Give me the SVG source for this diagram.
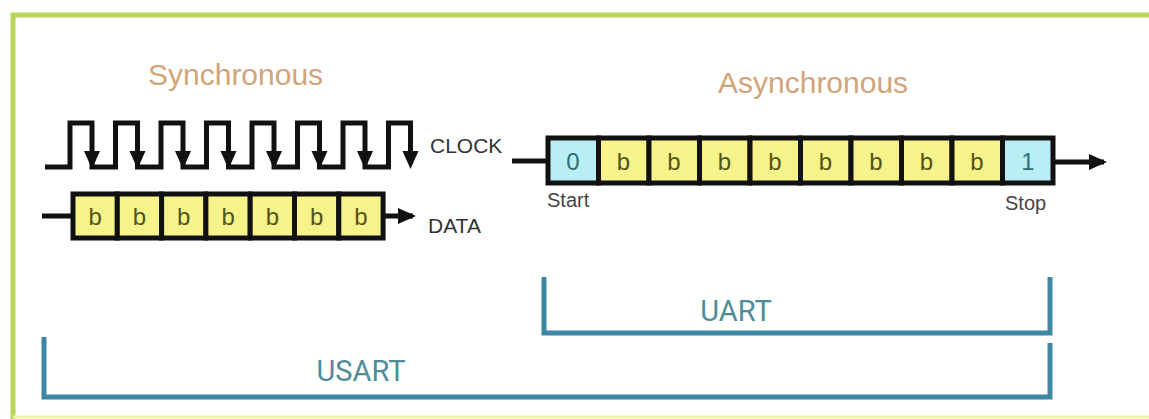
<svg xmlns="http://www.w3.org/2000/svg" xmlns:xlink="http://www.w3.org/1999/xlink" width="1149" height="419" viewBox="0 0 1149 419">
  <defs>
    <style>
      .title { font-family: "Liberation Sans", Arial, sans-serif; font-size: 30px; fill: #d2a478; }
      .sig { font-family: "Liberation Sans", Arial, sans-serif; font-size: 21px; fill: #333; }
      .small { font-family: "Liberation Sans", Arial, sans-serif; font-size: 20px; fill: #444; }
      .bit { font-family: "Liberation Sans", Arial, sans-serif; font-size: 24px; fill: #55531a; text-anchor: middle; }
      .edge { font-family: "Liberation Sans", Arial, sans-serif; font-size: 24px; fill: #2e6e72; text-anchor: middle; }
      .cellY { fill: #f6f38a; stroke: #111; stroke-width: 5; }
      .cellC { fill: #b8eef4; stroke: #111; stroke-width: 5; }
      .wire { fill: none; stroke: #111; stroke-width: 5; }
      .brace { fill: none; stroke: #3d87a3; stroke-width: 5; }
      .brlabel { font-family: Roboto, "Liberation Sans", sans-serif; font-size: 29px; fill: #4f8c99; text-anchor: middle; }
    </style>
    <!-- falling-edge arrowhead, tip at origin -->
    <path id="clkHead" d="M-8,-18 L8,-18 L0,0 Z" fill="#111"/>
    <marker id="arrow" markerWidth="18" markerHeight="16" refX="15" refY="8" orient="auto" markerUnits="userSpaceOnUse">
      <path d="M0,0 L18,8 L0,16 Z" fill="#111"/>
    </marker>
  </defs>

  <rect width="1149" height="419" fill="#ffffff"/>

  <!-- frame -->
  <g id="frame">
    <path d="M13,419 V15 H1149" fill="none" stroke="#b7d65a" stroke-width="5"/>
    <line x1="13" y1="417" x2="1149" y2="417" stroke="#eef7a8" stroke-width="3"/>
  </g>

  <!-- synchronous side -->
  <g id="sync-title">
    <text class="title" x="148" y="85">Synchronous</text>
  </g>

  <g id="clock">
    <path class="wire" d="M45,167 H70 V123 H92 V167 H115.5 V123 H137.5 V167 H161 V123 H183 V167 H206.5 V123 H228.5 V167 H252 V123 H274 V167 H297.5 V123 H319.5 V167 H343 V123 H365 V167 H388.5 V123 H410.5 V152"/>
    <use xlink:href="#clkHead" x="92" y="169"/>
    <use xlink:href="#clkHead" x="137.5" y="169"/>
    <use xlink:href="#clkHead" x="183" y="169"/>
    <use xlink:href="#clkHead" x="228.5" y="169"/>
    <use xlink:href="#clkHead" x="274" y="169"/>
    <use xlink:href="#clkHead" x="319.5" y="169"/>
    <use xlink:href="#clkHead" x="365" y="169"/>
    <use xlink:href="#clkHead" x="410.5" y="169"/>
    <text class="sig" x="430" y="153">CLOCK</text>
  </g>

  <g id="data">
    <rect class="cellY" x="73" y="194" width="44.3" height="44"/>
    <rect class="cellY" x="117.3" y="194" width="44.3" height="44"/>
    <rect class="cellY" x="161.6" y="194" width="44.3" height="44"/>
    <rect class="cellY" x="205.9" y="194" width="44.3" height="44"/>
    <rect class="cellY" x="250.2" y="194" width="44.3" height="44"/>
    <rect class="cellY" x="294.5" y="194" width="44.3" height="44"/>
    <rect class="cellY" x="338.8" y="194" width="44.3" height="44"/>
    <text class="bit" x="95.2" y="225">b</text>
    <text class="bit" x="139.5" y="225">b</text>
    <text class="bit" x="183.8" y="225">b</text>
    <text class="bit" x="228.1" y="225">b</text>
    <text class="bit" x="272.4" y="225">b</text>
    <text class="bit" x="316.7" y="225">b</text>
    <text class="bit" x="361" y="225">b</text>
    <text class="sig" x="428" y="233">DATA</text>
  </g>

  <!-- asynchronous side -->
  <g id="async-title">
    <text class="title" x="718" y="93">Asynchronous</text>
  </g>

  <g id="frame-bits">
    <rect class="cellC" x="548" y="138" width="50.5" height="45"/>
    <rect class="cellY" x="598.5" y="138" width="50.5" height="45"/>
    <rect class="cellY" x="649" y="138" width="50.5" height="45"/>
    <rect class="cellY" x="699.5" y="138" width="50.5" height="45"/>
    <rect class="cellY" x="750" y="138" width="50.5" height="45"/>
    <rect class="cellY" x="800.5" y="138" width="50.5" height="45"/>
    <rect class="cellY" x="851" y="138" width="50.5" height="45"/>
    <rect class="cellY" x="901.5" y="138" width="50.5" height="45"/>
    <rect class="cellY" x="952" y="138" width="50.5" height="45"/>
    <rect class="cellC" x="1002.5" y="138" width="50.5" height="45"/>
    <text class="edge" x="573" y="170">0</text>
    <text class="bit" x="623.5" y="170">b</text>
    <text class="bit" x="674" y="170">b</text>
    <text class="bit" x="724.5" y="170">b</text>
    <text class="bit" x="775" y="170">b</text>
    <text class="bit" x="825.5" y="170">b</text>
    <text class="bit" x="876" y="170">b</text>
    <text class="bit" x="926.5" y="170">b</text>
    <text class="bit" x="977" y="170">b</text>
    <text class="edge" x="1028" y="170">1</text>
    <text class="small" x="547" y="207">Start</text>
    <text class="small" x="1005" y="210">Stop</text>
  </g>

  <!-- wires -->
  <g id="connectors">
    <line class="wire" x1="42" y1="216" x2="73" y2="216"/>
    <line class="wire" x1="383" y1="216" x2="413" y2="216" marker-end="url(#arrow)"/>
    <line class="wire" x1="512" y1="161" x2="548" y2="161"/>
    <line class="wire" x1="1053" y1="162" x2="1104" y2="162" marker-end="url(#arrow)"/>
  </g>

  <!-- protocol spans -->
  <g id="uart">
    <path class="brace" d="M544,277 V333 H1050 V277"/>
    <text class="brlabel" x="736" y="321">UART</text>
  </g>
  <g id="usart">
    <path class="brace" d="M44,337 V397 H1050 V343"/>
    <text class="brlabel" x="361" y="381">USART</text>
  </g>
</svg>
